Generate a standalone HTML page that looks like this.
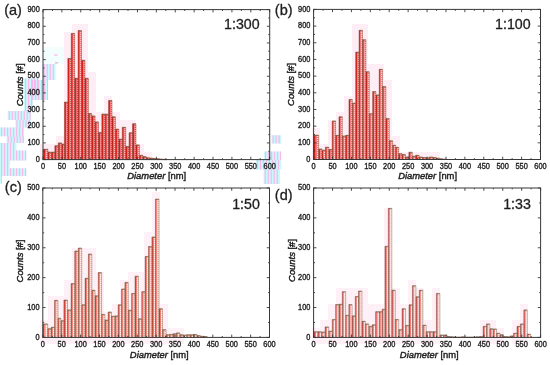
<!DOCTYPE html>
<html><head><meta charset="utf-8"><title>Histograms</title>
<style>
html,body{margin:0;padding:0;background:#fff;width:550px;height:365px;overflow:hidden;}
svg{display:block;will-change:transform;}
text{font-family:"Liberation Sans",sans-serif;fill:#1e1e1e;stroke:#1e1e1e;stroke-width:0.3px;}
.tl{font-size:7.4px;stroke-width:0.32px;}
.pl{font-size:14.5px;stroke-width:0.3px;}
.rt{font-size:14.2px;stroke-width:0.3px;}
.at{font-size:9.4px;stroke-width:0.42px;}
</style></head><body>
<svg width="550" height="365" viewBox="0 0 550 365">
<rect x="0" y="0" width="550" height="365" fill="#ffffff"/>
<path d="M42.6 64H55.6V80H42.6ZM31 80H48V100H31ZM24 78.5H38.4V95H24ZM24 95H32.9V111H24ZM7.7 111H30.7V120H7.7ZM15.4 120H30.7V127.5H15.4ZM0 127.5H24.1V136.3H0ZM6.6 136.3H24.1V143H6.6ZM0 143H16.4V150.6H0ZM0 150.6H26.3V160.4H0ZM0 160.4H9.9V168.2H0ZM0 168.2H26.3V175.9H0ZM0 175.9H1.8V183.5H0ZM271.5 135.2H281V143.4H271.5ZM264 151.6H281V160H264ZM255.9 160H281V169.5H255.9ZM263.6 169.5H280V184H263.6Z" fill="#c8fafc"/><path d="M43.6 64H44.8V80H43.6ZM46.6 64H47.8V80H46.6ZM49.6 64H50.8V80H49.6ZM52.6 64H53.8V80H52.6ZM32 80H33.2V100H32ZM35 80H36.2V100H35ZM38 80H39.2V100H38ZM41 80H42.2V100H41ZM44 80H45.2V100H44ZM47 80H48V100H47ZM25 78.5H26.2V95H25ZM28 78.5H29.2V95H28ZM31 78.5H32.2V95H31ZM34 78.5H35.2V95H34ZM37 78.5H38.2V95H37ZM25 95H26.2V111H25ZM28 95H29.2V111H28ZM31 95H32.2V111H31ZM8.7 111H9.9V120H8.7ZM11.7 111H12.9V120H11.7ZM14.7 111H15.9V120H14.7ZM17.7 111H18.9V120H17.7ZM20.7 111H21.9V120H20.7ZM23.7 111H24.9V120H23.7ZM26.7 111H27.9V120H26.7ZM29.7 111H30.7V120H29.7ZM16.4 120H17.6V127.5H16.4ZM19.4 120H20.6V127.5H19.4ZM22.4 120H23.6V127.5H22.4ZM25.4 120H26.6V127.5H25.4ZM28.4 120H29.6V127.5H28.4ZM1 127.5H2.2V136.3H1ZM4 127.5H5.2V136.3H4ZM7 127.5H8.2V136.3H7ZM10 127.5H11.2V136.3H10ZM13 127.5H14.2V136.3H13ZM16 127.5H17.2V136.3H16ZM19 127.5H20.2V136.3H19ZM22 127.5H23.2V136.3H22ZM7.6 136.3H8.8V143H7.6ZM10.6 136.3H11.8V143H10.6ZM13.6 136.3H14.8V143H13.6ZM16.6 136.3H17.8V143H16.6ZM19.6 136.3H20.8V143H19.6ZM22.6 136.3H23.8V143H22.6ZM1 143H2.2V150.6H1ZM4 143H5.2V150.6H4ZM7 143H8.2V150.6H7ZM10 143H11.2V150.6H10ZM13 143H14.2V150.6H13ZM1 150.6H2.2V160.4H1ZM4 150.6H5.2V160.4H4ZM7 150.6H8.2V160.4H7ZM10 150.6H11.2V160.4H10ZM13 150.6H14.2V160.4H13ZM16 150.6H17.2V160.4H16ZM19 150.6H20.2V160.4H19ZM22 150.6H23.2V160.4H22ZM25 150.6H26.2V160.4H25ZM1 160.4H2.2V168.2H1ZM4 160.4H5.2V168.2H4ZM7 160.4H8.2V168.2H7ZM1 168.2H2.2V175.9H1ZM4 168.2H5.2V175.9H4ZM7 168.2H8.2V175.9H7ZM10 168.2H11.2V175.9H10ZM13 168.2H14.2V175.9H13ZM16 168.2H17.2V175.9H16ZM19 168.2H20.2V175.9H19ZM22 168.2H23.2V175.9H22ZM25 168.2H26.2V175.9H25ZM1 175.9H1.8V183.5H1ZM272.5 135.2H273.7V143.4H272.5ZM275.5 135.2H276.7V143.4H275.5ZM278.5 135.2H279.7V143.4H278.5ZM265 151.6H266.2V160H265ZM268 151.6H269.2V160H268ZM271 151.6H272.2V160H271ZM274 151.6H275.2V160H274ZM277 151.6H278.2V160H277ZM280 151.6H281V160H280ZM256.9 160H258.1V169.5H256.9ZM259.9 160H261.1V169.5H259.9ZM262.9 160H264.1V169.5H262.9ZM265.9 160H267.1V169.5H265.9ZM268.9 160H270.1V169.5H268.9ZM271.9 160H273.1V169.5H271.9ZM274.9 160H276.1V169.5H274.9ZM277.9 160H279.1V169.5H277.9ZM264.6 169.5H265.8V184H264.6ZM267.6 169.5H268.8V184H267.6ZM270.6 169.5H271.8V184H270.6ZM273.6 169.5H274.8V184H273.6ZM276.6 169.5H277.8V184H276.6Z" fill="#f9b8ec"/>
<path d="M43.3 47H64V64H43.3Z" fill="#f2fefe"/><path d="M54 54.4H57.6V55.6H54ZM55 62.2H58.2V63.4H55Z" fill="#f8a8e0"/>
<path d="M40 144h8v8h-8ZM40 152h8v8h-8ZM48 144h8v8h-8ZM48 152h8v8h-8ZM56 136h8v8h-8ZM56 144h8v8h-8ZM56 152h8v8h-8ZM64 32h8v8h-8ZM64 40h8v8h-8ZM64 48h8v8h-8ZM64 56h8v8h-8ZM64 64h8v8h-8ZM64 72h8v8h-8ZM64 80h8v8h-8ZM64 88h8v8h-8ZM64 96h8v8h-8ZM64 104h8v8h-8ZM64 112h8v8h-8ZM64 120h8v8h-8ZM64 128h8v8h-8ZM64 136h8v8h-8ZM64 144h8v8h-8ZM64 152h8v8h-8ZM72 24h8v8h-8ZM72 32h8v8h-8ZM72 40h8v8h-8ZM72 48h8v8h-8ZM72 56h8v8h-8ZM72 64h8v8h-8ZM72 72h8v8h-8ZM72 80h8v8h-8ZM72 88h8v8h-8ZM72 96h8v8h-8ZM72 104h8v8h-8ZM72 112h8v8h-8ZM72 120h8v8h-8ZM72 128h8v8h-8ZM72 136h8v8h-8ZM72 144h8v8h-8ZM72 152h8v8h-8ZM80 24h8v8h-8ZM80 32h8v8h-8ZM80 40h8v8h-8ZM80 48h8v8h-8ZM80 56h8v8h-8ZM80 64h8v8h-8ZM80 72h8v8h-8ZM80 80h8v8h-8ZM80 88h8v8h-8ZM80 96h8v8h-8ZM80 104h8v8h-8ZM80 112h8v8h-8ZM80 120h8v8h-8ZM80 128h8v8h-8ZM80 136h8v8h-8ZM80 144h8v8h-8ZM80 152h8v8h-8ZM88 72h8v8h-8ZM88 80h8v8h-8ZM88 88h8v8h-8ZM88 96h8v8h-8ZM88 104h8v8h-8ZM88 112h8v8h-8ZM88 120h8v8h-8ZM88 128h8v8h-8ZM88 136h8v8h-8ZM88 144h8v8h-8ZM88 152h8v8h-8ZM96 112h8v8h-8ZM96 120h8v8h-8ZM96 128h8v8h-8ZM96 136h8v8h-8ZM96 144h8v8h-8ZM96 152h8v8h-8ZM104 96h8v8h-8ZM104 104h8v8h-8ZM104 112h8v8h-8ZM104 120h8v8h-8ZM104 128h8v8h-8ZM104 136h8v8h-8ZM104 144h8v8h-8ZM104 152h8v8h-8ZM112 112h8v8h-8ZM112 120h8v8h-8ZM112 128h8v8h-8ZM112 136h8v8h-8ZM112 144h8v8h-8ZM112 152h8v8h-8ZM120 120h8v8h-8ZM120 128h8v8h-8ZM120 136h8v8h-8ZM120 144h8v8h-8ZM120 152h8v8h-8ZM128 120h8v8h-8ZM128 128h8v8h-8ZM128 136h8v8h-8ZM128 144h8v8h-8ZM128 152h8v8h-8ZM136 144h8v8h-8ZM136 152h8v8h-8ZM144 152h8v8h-8Z" fill="#fdedf4"/>
<path d="M43.2 149.27H45.33V159.6H43.2ZM47.93 152.1H49.49V159.6H47.93ZM51.39 152.1H52.95V159.6H51.39ZM54.85 145.77H56.41V159.6H54.85ZM58.31 142.93H59.87V159.6H58.31ZM61.77 144.1H62.96V159.6H61.77ZM64.41 102.1H65.95V159.6H64.41ZM67.83 58.43H69.37V159.6H67.83ZM71.25 33.43H72.79V159.6H71.25ZM74.67 78.27H76.21V159.6H74.67ZM78.09 30.6H79.63V159.6H78.09ZM81.51 60.27H83.05V159.6H81.51ZM84.93 78.27H86.47V159.6H84.93ZM88.35 113.6H89.87V159.6H88.35ZM91.72 115.93H93.24V159.6H91.72ZM95.09 121.93H96.61V159.6H95.09ZM98.46 132.6H99.98V159.6H98.46ZM101.83 114.1H103.34V159.6H101.83ZM105.19 114.1H106.71V159.6H105.19ZM108.56 100.43H110.1V159.6H108.56ZM111.99 116.77H113.53V159.6H111.99ZM115.41 129.1H116.95V159.6H115.41ZM118.83 139.1H120.38V159.6H118.83ZM122.26 127.27H123.8V159.6H122.26ZM125.68 146.43H127.22V159.6H125.68ZM129.1 132.77H130.65V159.6H129.1ZM132.53 123.77H134.07V159.6H132.53ZM135.95 144.93H137.49V159.6H135.95ZM139.38 155.27H140.92V159.6H139.38ZM142.81 156.6H144.36V159.6H142.81ZM146.25 157.77H147.79V159.6H146.25ZM149.68 158.1H151.23V159.6H149.68ZM153.12 158.43H154.66V159.6H153.12ZM156.55 158.77H158.1V159.6H156.55ZM159.98 159.1H161.53V159.6H159.98ZM163.42 159.27H164.97V159.6H163.42Z" fill="#dc201e"/><path d="M45.33 149.27H46.37V159.6H45.33ZM49.49 152.1H50.25V159.6H49.49ZM52.95 152.1H53.71V159.6H52.95ZM56.41 145.77H57.17V159.6H56.41ZM59.87 142.93H60.63V159.6H59.87ZM62.96 144.1H63.54V159.6H62.96ZM65.95 102.1H66.7V159.6H65.95ZM69.37 58.43H70.12V159.6H69.37ZM72.79 33.43H73.54V159.6H72.79ZM76.21 78.27H76.96V159.6H76.21ZM79.63 30.6H80.38V159.6H79.63ZM83.05 60.27H83.8V159.6H83.05ZM86.47 78.27H87.22V159.6H86.47ZM89.87 113.6H90.61V159.6H89.87ZM93.24 115.93H93.97V159.6H93.24ZM96.61 121.93H97.34V159.6H96.61ZM99.98 132.6H100.71V159.6H99.98ZM103.34 114.1H104.08V159.6H103.34ZM106.71 114.1H107.45V159.6H106.71ZM110.1 100.43H110.85V159.6H110.1ZM113.53 116.77H114.27V159.6H113.53ZM116.95 129.1H117.7V159.6H116.95ZM120.38 139.1H121.12V159.6H120.38ZM123.8 127.27H124.55V159.6H123.8ZM127.22 146.43H127.97V159.6H127.22ZM130.65 132.77H131.39V159.6H130.65ZM134.07 123.77H134.82V159.6H134.07ZM137.49 144.93H138.24V159.6H137.49ZM140.92 155.27H141.67V159.6H140.92ZM144.36 156.6H145.11V159.6H144.36ZM147.79 157.77H148.54V159.6H147.79ZM151.23 158.1H151.98V159.6H151.23ZM154.66 158.43H155.41V159.6H154.66ZM158.1 158.77H158.85V159.6H158.1ZM161.53 159.1H162.28V159.6H161.53ZM164.97 159.27H165.72V159.6H164.97Z" fill="#f64a58"/><defs><pattern id="pa2" patternUnits="userSpaceOnUse" x="0" y="0" width="4" height="2"><rect x="0" y="0" width="4" height="1" fill="#fcc8c8"/><rect x="0" y="1" width="4" height="1" fill="#ec5858"/></pattern></defs><path d="M46.37 149.27H47.93V159.6H46.37ZM50.25 152.1H51.39V159.6H50.25ZM53.71 152.1H54.85V159.6H53.71ZM57.17 145.77H58.31V159.6H57.17ZM60.63 142.93H61.77V159.6H60.63ZM63.54 144.1H64.41V159.6H63.54ZM66.7 102.1H67.83V159.6H66.7ZM70.12 58.43H71.25V159.6H70.12ZM73.54 33.43H74.67V159.6H73.54ZM76.96 78.27H78.09V159.6H76.96ZM80.38 30.6H81.51V159.6H80.38ZM83.8 60.27H84.93V159.6H83.8ZM87.22 78.27H88.35V159.6H87.22ZM90.61 113.6H91.72V159.6H90.61ZM93.97 115.93H95.09V159.6H93.97ZM97.34 121.93H98.46V159.6H97.34ZM100.71 132.6H101.83V159.6H100.71ZM104.08 114.1H105.19V159.6H104.08ZM107.45 114.1H108.56V159.6H107.45ZM110.85 100.43H111.99V159.6H110.85ZM114.27 116.77H115.41V159.6H114.27ZM117.7 129.1H118.83V159.6H117.7ZM121.12 139.1H122.26V159.6H121.12ZM124.55 127.27H125.68V159.6H124.55ZM127.97 146.43H129.1V159.6H127.97ZM131.39 132.77H132.53V159.6H131.39ZM134.82 123.77H135.95V159.6H134.82ZM138.24 144.93H139.38V159.6H138.24ZM141.67 155.27H142.81V159.6H141.67ZM145.11 156.6H146.25V159.6H145.11ZM148.54 157.77H149.68V159.6H148.54ZM151.98 158.1H153.12V159.6H151.98ZM155.41 158.43H156.55V159.6H155.41ZM158.85 158.77H159.98V159.6H158.85ZM162.28 159.1H163.42V159.6H162.28ZM165.72 159.27H166.85V159.6H165.72Z" fill="url(#pa2)"/><path d="M43.2 159.6V149.27H47.93V159.6M47.93 159.6V152.1H51.39V159.6M51.39 159.6V152.1H54.85V159.6M54.85 159.6V145.77H58.31V159.6M58.31 159.6V142.93H61.77V159.6M61.77 159.6V144.1H64.41V159.6M64.41 159.6V102.1H67.83V159.6M67.83 159.6V58.43H71.25V159.6M71.25 159.6V33.43H74.67V159.6M74.67 159.6V78.27H78.09V159.6M78.09 159.6V30.6H81.51V159.6M81.51 159.6V60.27H84.93V159.6M84.93 159.6V78.27H88.35V159.6M88.35 159.6V113.6H91.72V159.6M91.72 159.6V115.93H95.09V159.6M95.09 159.6V121.93H98.46V159.6M98.46 159.6V132.6H101.83V159.6M101.83 159.6V114.1H105.19V159.6M105.19 159.6V114.1H108.56V159.6M108.56 159.6V100.43H111.99V159.6M111.99 159.6V116.77H115.41V159.6M115.41 159.6V129.1H118.83V159.6M118.83 159.6V139.1H122.26V159.6M122.26 159.6V127.27H125.68V159.6M125.68 159.6V146.43H129.1V159.6M129.1 159.6V132.77H132.53V159.6M132.53 159.6V123.77H135.95V159.6M135.95 159.6V144.93H139.38V159.6M139.38 159.6V155.27H142.81V159.6M142.81 159.6V156.6H146.25V159.6M146.25 159.6V157.77H149.68V159.6M149.68 159.6V158.1H153.12V159.6M153.12 159.6V158.43H156.55V159.6M156.55 159.6V158.77H159.98V159.6M159.98 159.6V159.1H163.42V159.6M163.42 159.6V159.27H166.85V159.6" fill="none" stroke="#7a3820" stroke-width="0.45"/><path d="M43.4 149.62H47.73M48.13 152.45H51.19M51.59 152.45H54.65M55.05 146.12H58.11M58.51 143.28H61.57M61.97 144.45H64.21M64.61 102.45H67.63M68.03 58.78H71.05M71.45 33.78H74.47M74.87 78.62H77.89M78.29 30.95H81.31M81.71 60.62H84.73M85.13 78.62H88.15M88.55 113.95H91.52M91.92 116.28H94.89M95.29 122.28H98.26M98.66 132.95H101.63M102.03 114.45H104.99M105.39 114.45H108.36M108.76 100.78H111.79M112.19 117.12H115.21M115.61 129.45H118.63M119.03 139.45H122.06M122.46 127.62H125.48M125.88 146.78H128.9M129.3 133.12H132.33M132.73 124.12H135.75M136.15 145.28H139.18M139.58 155.62H142.61M143.01 156.95H146.05M146.45 158.12H149.48M149.88 158.45H152.92M153.32 158.78H156.35M156.75 159.12H159.78M160.18 159.45H163.22M163.62 159.62H166.65" fill="none" stroke="#7a6040" stroke-width="0.7"/>
<rect x="43" y="9.6" width="226.7" height="150" fill="none" stroke="#383838" stroke-width="1"/>
<path d="M43 159.6v-2.8M43 9.6v2.8M52.45 159.6v-1.4M52.45 9.6v1.4M61.89 159.6v-2.8M61.89 9.6v2.8M71.34 159.6v-1.4M71.34 9.6v1.4M80.78 159.6v-2.8M80.78 9.6v2.8M90.23 159.6v-1.4M90.23 9.6v1.4M99.67 159.6v-2.8M99.67 9.6v2.8M109.12 159.6v-1.4M109.12 9.6v1.4M118.57 159.6v-2.8M118.57 9.6v2.8M128.01 159.6v-1.4M128.01 9.6v1.4M137.46 159.6v-2.8M137.46 9.6v2.8M146.9 159.6v-1.4M146.9 9.6v1.4M156.35 159.6v-2.8M156.35 9.6v2.8M165.8 159.6v-1.4M165.8 9.6v1.4M175.24 159.6v-2.8M175.24 9.6v2.8M184.69 159.6v-1.4M184.69 9.6v1.4M194.13 159.6v-2.8M194.13 9.6v2.8M203.58 159.6v-1.4M203.58 9.6v1.4M213.02 159.6v-2.8M213.02 9.6v2.8M222.47 159.6v-1.4M222.47 9.6v1.4M231.92 159.6v-2.8M231.92 9.6v2.8M241.36 159.6v-1.4M241.36 9.6v1.4M250.81 159.6v-2.8M250.81 9.6v2.8M260.25 159.6v-1.4M260.25 9.6v1.4M269.7 159.6v-2.8M269.7 9.6v2.8M43 159.6h2.8M269.7 159.6h-2.8M43 151.27h1.4M269.7 151.27h-1.4M43 142.93h2.8M269.7 142.93h-2.8M43 134.6h1.4M269.7 134.6h-1.4M43 126.27h2.8M269.7 126.27h-2.8M43 117.93h1.4M269.7 117.93h-1.4M43 109.6h2.8M269.7 109.6h-2.8M43 101.27h1.4M269.7 101.27h-1.4M43 92.93h2.8M269.7 92.93h-2.8M43 84.6h1.4M269.7 84.6h-1.4M43 76.27h2.8M269.7 76.27h-2.8M43 67.93h1.4M269.7 67.93h-1.4M43 59.6h2.8M269.7 59.6h-2.8M43 51.27h1.4M269.7 51.27h-1.4M43 42.93h2.8M269.7 42.93h-2.8M43 34.6h1.4M269.7 34.6h-1.4M43 26.27h2.8M269.7 26.27h-2.8M43 17.93h1.4M269.7 17.93h-1.4M43 9.6h2.8M269.7 9.6h-2.8" stroke="#383838" stroke-width="0.9" fill="none"/>
<text class="tl" transform="translate(43 168.8) scale(1 1.1)" text-anchor="middle">0</text><text class="tl" transform="translate(61.89 168.8) scale(1 1.1)" text-anchor="middle">50</text><text class="tl" transform="translate(80.78 168.8) scale(1 1.1)" text-anchor="middle">100</text><text class="tl" transform="translate(99.67 168.8) scale(1 1.1)" text-anchor="middle">150</text><text class="tl" transform="translate(118.57 168.8) scale(1 1.1)" text-anchor="middle">200</text><text class="tl" transform="translate(137.46 168.8) scale(1 1.1)" text-anchor="middle">250</text><text class="tl" transform="translate(156.35 168.8) scale(1 1.1)" text-anchor="middle">300</text><text class="tl" transform="translate(175.24 168.8) scale(1 1.1)" text-anchor="middle">350</text><text class="tl" transform="translate(194.13 168.8) scale(1 1.1)" text-anchor="middle">400</text><text class="tl" transform="translate(213.02 168.8) scale(1 1.1)" text-anchor="middle">450</text><text class="tl" transform="translate(231.92 168.8) scale(1 1.1)" text-anchor="middle">500</text><text class="tl" transform="translate(250.81 168.8) scale(1 1.1)" text-anchor="middle">550</text><text class="tl" transform="translate(269.7 168.8) scale(1 1.1)" text-anchor="middle">600</text><text class="tl" transform="translate(39.8 161.8) scale(1 1.1)" text-anchor="end">0</text><text class="tl" transform="translate(39.8 145.13) scale(1 1.1)" text-anchor="end">100</text><text class="tl" transform="translate(39.8 128.47) scale(1 1.1)" text-anchor="end">200</text><text class="tl" transform="translate(39.8 111.8) scale(1 1.1)" text-anchor="end">300</text><text class="tl" transform="translate(39.8 95.13) scale(1 1.1)" text-anchor="end">400</text><text class="tl" transform="translate(39.8 78.47) scale(1 1.1)" text-anchor="end">500</text><text class="tl" transform="translate(39.8 61.8) scale(1 1.1)" text-anchor="end">600</text><text class="tl" transform="translate(39.8 45.13) scale(1 1.1)" text-anchor="end">700</text><text class="tl" transform="translate(39.8 28.47) scale(1 1.1)" text-anchor="end">800</text><text class="tl" transform="translate(39.8 11.8) scale(1 1.1)" text-anchor="end">900</text>
<text class="pl" x="4.2" y="15.1">(a)</text>
<text class="rt" x="259.6" y="28.5" text-anchor="end">1:300</text>
<text class="at" x="156.7" y="178.9" text-anchor="middle"><tspan font-style="italic">Diameter</tspan> [nm]</text>
<text class="at" transform="translate(23.2 84.8) rotate(-90)" x="0" y="0" text-anchor="middle"><tspan font-style="italic">Counts</tspan> [#]</text>
<path d="M312 128h8v8h-8ZM312 136h8v8h-8ZM312 144h8v8h-8ZM312 152h8v8h-8ZM320 144h8v8h-8ZM320 152h8v8h-8ZM328 120h8v8h-8ZM328 128h8v8h-8ZM328 136h8v8h-8ZM328 144h8v8h-8ZM328 152h8v8h-8ZM336 112h8v8h-8ZM336 120h8v8h-8ZM336 128h8v8h-8ZM336 136h8v8h-8ZM336 144h8v8h-8ZM336 152h8v8h-8ZM344 96h8v8h-8ZM344 104h8v8h-8ZM344 112h8v8h-8ZM344 120h8v8h-8ZM344 128h8v8h-8ZM344 136h8v8h-8ZM344 144h8v8h-8ZM344 152h8v8h-8ZM352 24h8v8h-8ZM352 32h8v8h-8ZM352 40h8v8h-8ZM352 48h8v8h-8ZM352 56h8v8h-8ZM352 64h8v8h-8ZM352 72h8v8h-8ZM352 80h8v8h-8ZM352 88h8v8h-8ZM352 96h8v8h-8ZM352 104h8v8h-8ZM352 112h8v8h-8ZM352 120h8v8h-8ZM352 128h8v8h-8ZM352 136h8v8h-8ZM352 144h8v8h-8ZM352 152h8v8h-8ZM360 24h8v8h-8ZM360 32h8v8h-8ZM360 40h8v8h-8ZM360 48h8v8h-8ZM360 56h8v8h-8ZM360 64h8v8h-8ZM360 72h8v8h-8ZM360 80h8v8h-8ZM360 88h8v8h-8ZM360 96h8v8h-8ZM360 104h8v8h-8ZM360 112h8v8h-8ZM360 120h8v8h-8ZM360 128h8v8h-8ZM360 136h8v8h-8ZM360 144h8v8h-8ZM360 152h8v8h-8ZM368 64h8v8h-8ZM368 72h8v8h-8ZM368 80h8v8h-8ZM368 88h8v8h-8ZM368 96h8v8h-8ZM368 104h8v8h-8ZM368 112h8v8h-8ZM368 120h8v8h-8ZM368 128h8v8h-8ZM368 136h8v8h-8ZM368 144h8v8h-8ZM368 152h8v8h-8ZM376 64h8v8h-8ZM376 72h8v8h-8ZM376 80h8v8h-8ZM376 88h8v8h-8ZM376 96h8v8h-8ZM376 104h8v8h-8ZM376 112h8v8h-8ZM376 120h8v8h-8ZM376 128h8v8h-8ZM376 136h8v8h-8ZM376 144h8v8h-8ZM376 152h8v8h-8ZM384 80h8v8h-8ZM384 88h8v8h-8ZM384 96h8v8h-8ZM384 104h8v8h-8ZM384 112h8v8h-8ZM384 120h8v8h-8ZM384 128h8v8h-8ZM384 136h8v8h-8ZM384 144h8v8h-8ZM384 152h8v8h-8ZM392 136h8v8h-8ZM392 144h8v8h-8ZM392 152h8v8h-8ZM400 152h8v8h-8ZM408 152h8v8h-8ZM416 152h8v8h-8ZM424 152h8v8h-8ZM432 152h8v8h-8Z" fill="#fdeef5"/>
<path d="M313.8 135.15H315.7V159.5H313.8ZM318.64 148.99H319.97V159.5H318.64ZM322.04 150.16H323.37V159.5H322.04ZM325.43 147.16H326.77V159.5H325.43ZM328.83 149.49H330.16V159.5H328.83ZM332.23 120.97H333.56V159.5H332.23ZM335.63 135.32H336.94V159.5H335.63ZM338.97 116.8H340.28V159.5H338.97ZM342.3 135.98H343.61V159.5H342.3ZM345.64 135.32H346.95V159.5H345.64ZM348.98 99.46H350.29V159.5H348.98ZM352.32 103.13H353.65V159.5H352.32ZM355.7 52.1H357.03V159.5H355.7ZM359.09 30.25H360.42V159.5H359.09ZM362.48 39.75H363.81V159.5H362.48ZM365.87 71.77H367.2V159.5H365.87ZM369.26 113.8H370.59V159.5H369.26ZM372.64 91.62H373.93V159.5H372.64ZM375.92 94.96H377.2V159.5H375.92ZM379.19 69.27H380.47V159.5H379.19ZM382.46 86.62H383.79V159.5H382.46ZM385.86 118.47H387.2V159.5H385.86ZM389.27 140.82H390.6V159.5H389.27ZM392.67 145.16H393.84V159.5H392.67ZM395.66 147.33H396.83V159.5H395.66ZM398.65 153.66H399.98V159.5H398.65ZM402.05 154.5H403.39V159.5H402.05ZM405.46 157H406.79V159.5H405.46ZM408.86 152.16H410.2V159.5H408.86ZM412.27 156.16H413.6V159.5H412.27ZM415.67 155.33H417.01V159.5H415.67ZM419.07 157H420.42V159.5H419.07ZM422.51 157.5H423.86V159.5H422.51ZM425.95 157.83H427.3V159.5H425.95ZM429.39 157H430.74V159.5H429.39ZM432.83 157.5H434.17V159.5H432.83ZM436.26 158.17H437.61V159.5H436.26ZM439.7 158.83H441.05V159.5H439.7ZM443.14 159.17H444.49V159.5H443.14Z" fill="#d62420"/><path d="M315.7 135.15H316.89V159.5H315.7ZM319.97 148.99H320.81V159.5H319.97ZM323.37 150.16H324.21V159.5H323.37ZM326.77 147.16H327.61V159.5H326.77ZM330.16 149.49H331V159.5H330.16ZM333.56 120.97H334.4V159.5H333.56ZM336.94 135.32H337.76V159.5H336.94ZM340.28 116.8H341.1V159.5H340.28ZM343.61 135.98H344.44V159.5H343.61ZM346.95 135.32H347.78V159.5H346.95ZM350.29 99.46H351.11V159.5H350.29ZM353.65 103.13H354.48V159.5H353.65ZM357.03 52.1H357.87V159.5H357.03ZM360.42 30.25H361.26V159.5H360.42ZM363.81 39.75H364.65V159.5H363.81ZM367.2 71.77H368.03V159.5H367.2ZM370.59 113.8H371.42V159.5H370.59ZM373.93 91.62H374.74V159.5H373.93ZM377.2 94.96H378.01V159.5H377.2ZM380.47 69.27H381.28V159.5H380.47ZM383.79 86.62H384.63V159.5H383.79ZM387.2 118.47H388.04V159.5H387.2ZM390.6 140.82H391.44V159.5H390.6ZM393.84 145.16H394.58V159.5H393.84ZM396.83 147.33H397.57V159.5H396.83ZM399.98 153.66H400.82V159.5H399.98ZM403.39 154.5H404.23V159.5H403.39ZM406.79 157H407.63V159.5H406.79ZM410.2 152.16H411.04V159.5H410.2ZM413.6 156.16H414.44V159.5H413.6ZM417.01 155.33H417.85V159.5H417.01ZM420.42 157H421.27V159.5H420.42ZM423.86 157.5H424.71V159.5H423.86ZM427.3 157.83H428.15V159.5H427.3ZM430.74 157H431.59V159.5H430.74ZM434.17 157.5H435.02V159.5H434.17ZM437.61 158.17H438.46V159.5H437.61ZM441.05 158.83H441.9V159.5H441.05ZM444.49 159.17H445.34V159.5H444.49Z" fill="#f6626a"/><defs><pattern id="pb2" patternUnits="userSpaceOnUse" x="0" y="0" width="4" height="2"><rect x="0" y="0" width="4" height="1" fill="#fedcd8"/><rect x="0" y="1" width="4" height="1" fill="#f27c78"/></pattern></defs><path d="M316.89 135.15H318.64V159.5H316.89ZM320.81 148.99H322.04V159.5H320.81ZM324.21 150.16H325.43V159.5H324.21ZM327.61 147.16H328.83V159.5H327.61ZM331 149.49H332.23V159.5H331ZM334.4 120.97H335.63V159.5H334.4ZM337.76 135.32H338.97V159.5H337.76ZM341.1 116.8H342.3V159.5H341.1ZM344.44 135.98H345.64V159.5H344.44ZM347.78 135.32H348.98V159.5H347.78ZM351.11 99.46H352.32V159.5H351.11ZM354.48 103.13H355.7V159.5H354.48ZM357.87 52.1H359.09V159.5H357.87ZM361.26 30.25H362.48V159.5H361.26ZM364.65 39.75H365.87V159.5H364.65ZM368.03 71.77H369.26V159.5H368.03ZM371.42 113.8H372.64V159.5H371.42ZM374.74 91.62H375.92V159.5H374.74ZM378.01 94.96H379.19V159.5H378.01ZM381.28 69.27H382.46V159.5H381.28ZM384.63 86.62H385.86V159.5H384.63ZM388.04 118.47H389.27V159.5H388.04ZM391.44 140.82H392.67V159.5H391.44ZM394.58 145.16H395.66V159.5H394.58ZM397.57 147.33H398.65V159.5H397.57ZM400.82 153.66H402.05V159.5H400.82ZM404.23 154.5H405.46V159.5H404.23ZM407.63 157H408.86V159.5H407.63ZM411.04 152.16H412.27V159.5H411.04ZM414.44 156.16H415.67V159.5H414.44ZM417.85 155.33H419.07V159.5H417.85ZM421.27 157H422.51V159.5H421.27ZM424.71 157.5H425.95V159.5H424.71ZM428.15 157.83H429.39V159.5H428.15ZM431.59 157H432.83V159.5H431.59ZM435.02 157.5H436.26V159.5H435.02ZM438.46 158.17H439.7V159.5H438.46ZM441.9 158.83H443.14V159.5H441.9ZM445.34 159.17H446.58V159.5H445.34Z" fill="url(#pb2)"/><path d="M313.8 159.5V135.15H318.64V159.5M318.64 159.5V148.99H322.04V159.5M322.04 159.5V150.16H325.43V159.5M325.43 159.5V147.16H328.83V159.5M328.83 159.5V149.49H332.23V159.5M332.23 159.5V120.97H335.63V159.5M335.63 159.5V135.32H338.97V159.5M338.97 159.5V116.8H342.3V159.5M342.3 159.5V135.98H345.64V159.5M345.64 159.5V135.32H348.98V159.5M348.98 159.5V99.46H352.32V159.5M352.32 159.5V103.13H355.7V159.5M355.7 159.5V52.1H359.09V159.5M359.09 159.5V30.25H362.48V159.5M362.48 159.5V39.75H365.87V159.5M365.87 159.5V71.77H369.26V159.5M369.26 159.5V113.8H372.64V159.5M372.64 159.5V91.62H375.92V159.5M375.92 159.5V94.96H379.19V159.5M379.19 159.5V69.27H382.46V159.5M382.46 159.5V86.62H385.86V159.5M385.86 159.5V118.47H389.27V159.5M389.27 159.5V140.82H392.67V159.5M392.67 159.5V145.16H395.66V159.5M395.66 159.5V147.33H398.65V159.5M398.65 159.5V153.66H402.05V159.5M402.05 159.5V154.5H405.46V159.5M405.46 159.5V157H408.86V159.5M408.86 159.5V152.16H412.27V159.5M412.27 159.5V156.16H415.67V159.5M415.67 159.5V155.33H419.07V159.5M419.07 159.5V157H422.51V159.5M422.51 159.5V157.5H425.95V159.5M425.95 159.5V157.83H429.39V159.5M429.39 159.5V157H432.83V159.5M432.83 159.5V157.5H436.26V159.5M436.26 159.5V158.17H439.7V159.5M439.7 159.5V158.83H443.14V159.5M443.14 159.5V159.17H446.58V159.5" fill="none" stroke="#7a3c24" stroke-width="0.45"/><path d="M314 135.5H318.44M318.84 149.34H321.84M322.24 150.51H325.23M325.63 147.51H328.63M329.03 149.84H332.03M332.43 121.32H335.43M335.83 135.67H338.77M339.17 117.15H342.1M342.5 136.33H345.44M345.84 135.67H348.78M349.18 99.81H352.12M352.52 103.48H355.5M355.9 52.45H358.89M359.29 30.6H362.28M362.68 40.1H365.67M366.07 72.12H369.06M369.46 114.15H372.44M372.84 91.97H375.72M376.12 95.31H378.99M379.39 69.62H382.26M382.66 86.97H385.66M386.06 118.82H389.07M389.47 141.17H392.47M392.87 145.51H395.46M395.86 147.68H398.45M398.85 154.01H401.85M402.25 154.85H405.26M405.66 157.35H408.66M409.06 152.51H412.07M412.47 156.51H415.47M415.87 155.68H418.87M419.27 157.35H422.31M422.71 157.85H425.75M426.15 158.18H429.19M429.59 157.35H432.63M433.03 157.85H436.06M436.46 158.52H439.5M439.9 159.18H442.94M443.34 159.52H446.38" fill="none" stroke="#7a6444" stroke-width="0.7"/>
<rect x="313.6" y="9.4" width="226.9" height="150.1" fill="none" stroke="#383838" stroke-width="1"/>
<path d="M313.6 159.5v-2.8M313.6 9.4v2.8M323.05 159.5v-1.4M323.05 9.4v1.4M332.51 159.5v-2.8M332.51 9.4v2.8M341.96 159.5v-1.4M341.96 9.4v1.4M351.42 159.5v-2.8M351.42 9.4v2.8M360.87 159.5v-1.4M360.87 9.4v1.4M370.33 159.5v-2.8M370.33 9.4v2.8M379.78 159.5v-1.4M379.78 9.4v1.4M389.23 159.5v-2.8M389.23 9.4v2.8M398.69 159.5v-1.4M398.69 9.4v1.4M408.14 159.5v-2.8M408.14 9.4v2.8M417.6 159.5v-1.4M417.6 9.4v1.4M427.05 159.5v-2.8M427.05 9.4v2.8M436.5 159.5v-1.4M436.5 9.4v1.4M445.96 159.5v-2.8M445.96 9.4v2.8M455.41 159.5v-1.4M455.41 9.4v1.4M464.87 159.5v-2.8M464.87 9.4v2.8M474.32 159.5v-1.4M474.32 9.4v1.4M483.77 159.5v-2.8M483.77 9.4v2.8M493.23 159.5v-1.4M493.23 9.4v1.4M502.68 159.5v-2.8M502.68 9.4v2.8M512.14 159.5v-1.4M512.14 9.4v1.4M521.59 159.5v-2.8M521.59 9.4v2.8M531.05 159.5v-1.4M531.05 9.4v1.4M540.5 159.5v-2.8M540.5 9.4v2.8M313.6 159.5h2.8M540.5 159.5h-2.8M313.6 151.16h1.4M540.5 151.16h-1.4M313.6 142.82h2.8M540.5 142.82h-2.8M313.6 134.48h1.4M540.5 134.48h-1.4M313.6 126.14h2.8M540.5 126.14h-2.8M313.6 117.81h1.4M540.5 117.81h-1.4M313.6 109.47h2.8M540.5 109.47h-2.8M313.6 101.13h1.4M540.5 101.13h-1.4M313.6 92.79h2.8M540.5 92.79h-2.8M313.6 84.45h1.4M540.5 84.45h-1.4M313.6 76.11h2.8M540.5 76.11h-2.8M313.6 67.77h1.4M540.5 67.77h-1.4M313.6 59.43h2.8M540.5 59.43h-2.8M313.6 51.09h1.4M540.5 51.09h-1.4M313.6 42.76h2.8M540.5 42.76h-2.8M313.6 34.42h1.4M540.5 34.42h-1.4M313.6 26.08h2.8M540.5 26.08h-2.8M313.6 17.74h1.4M540.5 17.74h-1.4M313.6 9.4h2.8M540.5 9.4h-2.8" stroke="#383838" stroke-width="0.9" fill="none"/>
<text class="tl" transform="translate(313.6 168.7) scale(1 1.1)" text-anchor="middle">0</text><text class="tl" transform="translate(332.51 168.7) scale(1 1.1)" text-anchor="middle">50</text><text class="tl" transform="translate(351.42 168.7) scale(1 1.1)" text-anchor="middle">100</text><text class="tl" transform="translate(370.33 168.7) scale(1 1.1)" text-anchor="middle">150</text><text class="tl" transform="translate(389.23 168.7) scale(1 1.1)" text-anchor="middle">200</text><text class="tl" transform="translate(408.14 168.7) scale(1 1.1)" text-anchor="middle">250</text><text class="tl" transform="translate(427.05 168.7) scale(1 1.1)" text-anchor="middle">300</text><text class="tl" transform="translate(445.96 168.7) scale(1 1.1)" text-anchor="middle">350</text><text class="tl" transform="translate(464.87 168.7) scale(1 1.1)" text-anchor="middle">400</text><text class="tl" transform="translate(483.77 168.7) scale(1 1.1)" text-anchor="middle">450</text><text class="tl" transform="translate(502.68 168.7) scale(1 1.1)" text-anchor="middle">500</text><text class="tl" transform="translate(521.59 168.7) scale(1 1.1)" text-anchor="middle">550</text><text class="tl" transform="translate(540.5 168.7) scale(1 1.1)" text-anchor="middle">600</text><text class="tl" transform="translate(310.4 161.7) scale(1 1.1)" text-anchor="end">0</text><text class="tl" transform="translate(310.4 145.02) scale(1 1.1)" text-anchor="end">100</text><text class="tl" transform="translate(310.4 128.34) scale(1 1.1)" text-anchor="end">200</text><text class="tl" transform="translate(310.4 111.67) scale(1 1.1)" text-anchor="end">300</text><text class="tl" transform="translate(310.4 94.99) scale(1 1.1)" text-anchor="end">400</text><text class="tl" transform="translate(310.4 78.31) scale(1 1.1)" text-anchor="end">500</text><text class="tl" transform="translate(310.4 61.63) scale(1 1.1)" text-anchor="end">600</text><text class="tl" transform="translate(310.4 44.96) scale(1 1.1)" text-anchor="end">700</text><text class="tl" transform="translate(310.4 28.28) scale(1 1.1)" text-anchor="end">800</text><text class="tl" transform="translate(310.4 11.6) scale(1 1.1)" text-anchor="end">900</text>
<text class="pl" x="274.8" y="15.4">(b)</text>
<text class="rt" x="530.6" y="28.5" text-anchor="end">1:100</text>
<text class="at" x="427.6" y="179" text-anchor="middle"><tspan font-style="italic">Diameter</tspan> [nm]</text>
<text class="at" transform="translate(294.4 84.5) rotate(-90)" x="0" y="0" text-anchor="middle"><tspan font-style="italic">Counts</tspan> [#]</text>
<path d="M40 320h8v8h-8ZM40 328h8v8h-8ZM40 336h8v8h-8ZM48 296h8v8h-8ZM48 304h8v8h-8ZM48 312h8v8h-8ZM48 320h8v8h-8ZM48 328h8v8h-8ZM48 336h8v8h-8ZM56 296h8v8h-8ZM56 304h8v8h-8ZM56 312h8v8h-8ZM56 320h8v8h-8ZM56 328h8v8h-8ZM56 336h8v8h-8ZM64 280h8v8h-8ZM64 288h8v8h-8ZM64 296h8v8h-8ZM64 304h8v8h-8ZM64 312h8v8h-8ZM64 320h8v8h-8ZM64 328h8v8h-8ZM64 336h8v8h-8ZM72 248h8v8h-8ZM72 256h8v8h-8ZM72 264h8v8h-8ZM72 272h8v8h-8ZM72 280h8v8h-8ZM72 288h8v8h-8ZM72 296h8v8h-8ZM72 304h8v8h-8ZM72 312h8v8h-8ZM72 320h8v8h-8ZM72 328h8v8h-8ZM72 336h8v8h-8ZM80 248h8v8h-8ZM80 256h8v8h-8ZM80 264h8v8h-8ZM80 272h8v8h-8ZM80 280h8v8h-8ZM80 288h8v8h-8ZM80 296h8v8h-8ZM80 304h8v8h-8ZM80 312h8v8h-8ZM80 320h8v8h-8ZM80 328h8v8h-8ZM80 336h8v8h-8ZM88 248h8v8h-8ZM88 256h8v8h-8ZM88 264h8v8h-8ZM88 272h8v8h-8ZM88 280h8v8h-8ZM88 288h8v8h-8ZM88 296h8v8h-8ZM88 304h8v8h-8ZM88 312h8v8h-8ZM88 320h8v8h-8ZM88 328h8v8h-8ZM88 336h8v8h-8ZM96 272h8v8h-8ZM96 280h8v8h-8ZM96 288h8v8h-8ZM96 296h8v8h-8ZM96 304h8v8h-8ZM96 312h8v8h-8ZM96 320h8v8h-8ZM96 328h8v8h-8ZM96 336h8v8h-8ZM104 312h8v8h-8ZM104 320h8v8h-8ZM104 328h8v8h-8ZM104 336h8v8h-8ZM112 304h8v8h-8ZM112 312h8v8h-8ZM112 320h8v8h-8ZM112 328h8v8h-8ZM112 336h8v8h-8ZM120 280h8v8h-8ZM120 288h8v8h-8ZM120 296h8v8h-8ZM120 304h8v8h-8ZM120 312h8v8h-8ZM120 320h8v8h-8ZM120 328h8v8h-8ZM120 336h8v8h-8ZM128 272h8v8h-8ZM128 280h8v8h-8ZM128 288h8v8h-8ZM128 296h8v8h-8ZM128 304h8v8h-8ZM128 312h8v8h-8ZM128 320h8v8h-8ZM128 328h8v8h-8ZM128 336h8v8h-8ZM136 272h8v8h-8ZM136 280h8v8h-8ZM136 288h8v8h-8ZM136 296h8v8h-8ZM136 304h8v8h-8ZM136 312h8v8h-8ZM136 320h8v8h-8ZM136 328h8v8h-8ZM136 336h8v8h-8ZM144 232h8v8h-8ZM144 240h8v8h-8ZM144 248h8v8h-8ZM144 256h8v8h-8ZM144 264h8v8h-8ZM144 272h8v8h-8ZM144 280h8v8h-8ZM144 288h8v8h-8ZM144 296h8v8h-8ZM144 304h8v8h-8ZM144 312h8v8h-8ZM144 320h8v8h-8ZM144 328h8v8h-8ZM144 336h8v8h-8ZM152 192h8v8h-8ZM152 200h8v8h-8ZM152 208h8v8h-8ZM152 216h8v8h-8ZM152 224h8v8h-8ZM152 232h8v8h-8ZM152 240h8v8h-8ZM152 248h8v8h-8ZM152 256h8v8h-8ZM152 264h8v8h-8ZM152 272h8v8h-8ZM152 280h8v8h-8ZM152 288h8v8h-8ZM152 296h8v8h-8ZM152 304h8v8h-8ZM152 312h8v8h-8ZM152 320h8v8h-8ZM152 328h8v8h-8ZM152 336h8v8h-8ZM160 304h8v8h-8ZM160 312h8v8h-8ZM160 320h8v8h-8ZM160 328h8v8h-8ZM160 336h8v8h-8ZM168 328h8v8h-8ZM168 336h8v8h-8ZM176 328h8v8h-8ZM176 336h8v8h-8Z" fill="#fdf0f6"/>
<path d="M43 323.95H44.38V337.4H43ZM47.73 328.73H48.72V337.4H47.73ZM51.14 327.24H52.13V337.4H51.14ZM54.54 300.35H55.53V337.4H54.54ZM57.94 318.28H58.81V337.4H57.94ZM60.92 320.67H61.79V337.4H60.92ZM63.91 300.05H64.96V337.4H63.91ZM67.52 309.91H68.57V337.4H67.52ZM71.13 283.62H72.18V337.4H71.13ZM74.74 251.05H75.79V337.4H74.74ZM78.35 248.06H79.33V337.4H78.35ZM81.71 304.83H82.69V337.4H81.71ZM85.07 278.24H86.04V337.4H85.07ZM88.43 254.03H89.4V337.4H88.43ZM91.79 290.19H92.74V337.4H91.79ZM95.06 295.87H96.01V337.4H95.06ZM98.32 272.56H99.27V337.4H98.32ZM101.59 314.39H102.55V337.4H101.59ZM104.89 320.07H105.85V337.4H104.89ZM108.2 312H109.16V337.4H108.2ZM111.5 316.19H112.47V337.4H111.5ZM114.85 315.89H115.82V337.4H114.85ZM118.2 304.83H119.17V337.4H118.2ZM121.55 288.99H122.53V337.4H121.55ZM124.9 282.42H125.88V337.4H124.9ZM128.25 310.21H129.23V337.4H128.25ZM131.61 293.48H132.59V337.4H131.61ZM134.99 276.15H135.97V337.4H134.99ZM138.38 318.87H139.36V337.4H138.38ZM141.76 291.68H142.74V337.4H141.76ZM145.15 256.43H146.13V337.4H145.15ZM148.53 246.56H149.51V337.4H148.53ZM151.92 237H152.94V337.4H151.92ZM155.45 199.06H156.48V337.4H155.45ZM158.98 308.72H160.01V337.4H158.98ZM162.52 329.63H163.55V337.4H162.52ZM166.05 334.71H167.05V337.4H166.05ZM169.49 334.41H170.49V337.4H169.49ZM172.92 333.81H173.92V337.4H172.92ZM176.36 332.92H177.36V337.4H176.36ZM179.79 334.71H180.79V337.4H179.79ZM183.23 335.01H184.23V337.4H183.23ZM186.66 334.71H187.66V337.4H186.66ZM190.1 334.71H191.1V337.4H190.1ZM193.53 334.41H194.53V337.4H193.53ZM196.97 335.61H197.97V337.4H196.97ZM200.4 336.2H201.4V337.4H200.4ZM203.84 336.5H204.84V337.4H203.84Z" fill="#e23a36"/><path d="M44.38 323.95H45.75V337.4H44.38ZM48.72 328.73H49.71V337.4H48.72ZM52.13 327.24H53.11V337.4H52.13ZM55.53 300.35H56.52V337.4H55.53ZM58.81 318.28H59.67V337.4H58.81ZM61.79 320.67H62.66V337.4H61.79ZM64.96 300.05H66.01V337.4H64.96ZM68.57 309.91H69.62V337.4H68.57ZM72.18 283.62H73.23V337.4H72.18ZM75.79 251.05H76.84V337.4H75.79ZM79.33 248.06H80.3V337.4H79.33ZM82.69 304.83H83.66V337.4H82.69ZM86.04 278.24H87.02V337.4H86.04ZM89.4 254.03H90.38V337.4H89.4ZM92.74 290.19H93.69V337.4H92.74ZM96.01 295.87H96.96V337.4H96.01ZM99.27 272.56H100.22V337.4H99.27ZM102.55 314.39H103.51V337.4H102.55ZM105.85 320.07H106.81V337.4H105.85ZM109.16 312H110.11V337.4H109.16ZM112.47 316.19H113.45V337.4H112.47ZM115.82 315.89H116.8V337.4H115.82ZM119.17 304.83H120.15V337.4H119.17ZM122.53 288.99H123.5V337.4H122.53ZM125.88 282.42H126.85V337.4H125.88ZM129.23 310.21H130.2V337.4H129.23ZM132.59 293.48H133.57V337.4H132.59ZM135.97 276.15H136.96V337.4H135.97ZM139.36 318.87H140.34V337.4H139.36ZM142.74 291.68H143.73V337.4H142.74ZM146.13 256.43H147.11V337.4H146.13ZM149.51 246.56H150.5V337.4H149.51ZM152.94 237H153.97V337.4H152.94ZM156.48 199.06H157.51V337.4H156.48ZM160.01 308.72H161.04V337.4H160.01ZM163.55 329.63H164.57V337.4H163.55ZM167.05 334.71H168.05V337.4H167.05ZM170.49 334.41H171.49V337.4H170.49ZM173.92 333.81H174.92V337.4H173.92ZM177.36 332.92H178.36V337.4H177.36ZM180.79 334.71H181.79V337.4H180.79ZM184.23 335.01H185.23V337.4H184.23ZM187.66 334.71H188.66V337.4H187.66ZM191.1 334.71H192.1V337.4H191.1ZM194.53 334.41H195.53V337.4H194.53ZM197.97 335.61H198.97V337.4H197.97ZM201.4 336.2H202.4V337.4H201.4ZM204.84 336.5H205.83V337.4H204.84Z" fill="#f6786e"/><defs><pattern id="pc2" patternUnits="userSpaceOnUse" x="0" y="0" width="4" height="2"><rect x="0" y="0" width="4" height="1" fill="#fffcf8"/><rect x="0" y="1" width="4" height="1" fill="#fbc8bc"/></pattern></defs><path d="M45.75 323.95H47.73V337.4H45.75ZM49.71 328.73H51.14V337.4H49.71ZM53.11 327.24H54.54V337.4H53.11ZM56.52 300.35H57.94V337.4H56.52ZM59.67 318.28H60.92V337.4H59.67ZM62.66 320.67H63.91V337.4H62.66ZM66.01 300.05H67.52V337.4H66.01ZM69.62 309.91H71.13V337.4H69.62ZM73.23 283.62H74.74V337.4H73.23ZM76.84 251.05H78.35V337.4H76.84ZM80.3 248.06H81.71V337.4H80.3ZM83.66 304.83H85.07V337.4H83.66ZM87.02 278.24H88.43V337.4H87.02ZM90.38 254.03H91.79V337.4H90.38ZM93.69 290.19H95.06V337.4H93.69ZM96.96 295.87H98.32V337.4H96.96ZM100.22 272.56H101.59V337.4H100.22ZM103.51 314.39H104.89V337.4H103.51ZM106.81 320.07H108.2V337.4H106.81ZM110.11 312H111.5V337.4H110.11ZM113.45 316.19H114.85V337.4H113.45ZM116.8 315.89H118.2V337.4H116.8ZM120.15 304.83H121.55V337.4H120.15ZM123.5 288.99H124.9V337.4H123.5ZM126.85 282.42H128.25V337.4H126.85ZM130.2 310.21H131.61V337.4H130.2ZM133.57 293.48H134.99V337.4H133.57ZM136.96 276.15H138.38V337.4H136.96ZM140.34 318.87H141.76V337.4H140.34ZM143.73 291.68H145.15V337.4H143.73ZM147.11 256.43H148.53V337.4H147.11ZM150.5 246.56H151.92V337.4H150.5ZM153.97 237H155.45V337.4H153.97ZM157.51 199.06H158.98V337.4H157.51ZM161.04 308.72H162.52V337.4H161.04ZM164.57 329.63H166.05V337.4H164.57ZM168.05 334.71H169.49V337.4H168.05ZM171.49 334.41H172.92V337.4H171.49ZM174.92 333.81H176.36V337.4H174.92ZM178.36 332.92H179.79V337.4H178.36ZM181.79 334.71H183.23V337.4H181.79ZM185.23 335.01H186.66V337.4H185.23ZM188.66 334.71H190.1V337.4H188.66ZM192.1 334.71H193.53V337.4H192.1ZM195.53 334.41H196.97V337.4H195.53ZM198.97 335.61H200.4V337.4H198.97ZM202.4 336.2H203.84V337.4H202.4ZM205.83 336.5H207.27V337.4H205.83Z" fill="url(#pc2)"/><path d="M43 337.4V323.95H47.73V337.4M47.73 337.4V328.73H51.14V337.4M51.14 337.4V327.24H54.54V337.4M54.54 337.4V300.35H57.94V337.4M57.94 337.4V318.28H60.92V337.4M60.92 337.4V320.67H63.91V337.4M63.91 337.4V300.05H67.52V337.4M67.52 337.4V309.91H71.13V337.4M71.13 337.4V283.62H74.74V337.4M74.74 337.4V251.05H78.35V337.4M78.35 337.4V248.06H81.71V337.4M81.71 337.4V304.83H85.07V337.4M85.07 337.4V278.24H88.43V337.4M88.43 337.4V254.03H91.79V337.4M91.79 337.4V290.19H95.06V337.4M95.06 337.4V295.87H98.32V337.4M98.32 337.4V272.56H101.59V337.4M101.59 337.4V314.39H104.89V337.4M104.89 337.4V320.07H108.2V337.4M108.2 337.4V312H111.5V337.4M111.5 337.4V316.19H114.85V337.4M114.85 337.4V315.89H118.2V337.4M118.2 337.4V304.83H121.55V337.4M121.55 337.4V288.99H124.9V337.4M124.9 337.4V282.42H128.25V337.4M128.25 337.4V310.21H131.61V337.4M131.61 337.4V293.48H134.99V337.4M134.99 337.4V276.15H138.38V337.4M138.38 337.4V318.87H141.76V337.4M141.76 337.4V291.68H145.15V337.4M145.15 337.4V256.43H148.53V337.4M148.53 337.4V246.56H151.92V337.4M151.92 337.4V237H155.45V337.4M155.45 337.4V199.06H158.98V337.4M158.98 337.4V308.72H162.52V337.4M162.52 337.4V329.63H166.05V337.4M166.05 337.4V334.71H169.49V337.4M169.49 337.4V334.41H172.92V337.4M172.92 337.4V333.81H176.36V337.4M176.36 337.4V332.92H179.79V337.4M179.79 337.4V334.71H183.23V337.4M183.23 337.4V335.01H186.66V337.4M186.66 337.4V334.71H190.1V337.4M190.1 337.4V334.71H193.53V337.4M193.53 337.4V334.41H196.97V337.4M196.97 337.4V335.61H200.4V337.4M200.4 337.4V336.2H203.84V337.4M203.84 337.4V336.5H207.27V337.4" fill="none" stroke="#6e5438" stroke-width="0.45"/><path d="M43.2 324.3H47.53M47.93 329.08H50.94M51.34 327.59H54.34M54.74 300.7H57.74M58.14 318.63H60.72M61.12 321.02H63.71M64.11 300.4H67.32M67.72 310.26H70.93M71.33 283.97H74.54M74.94 251.4H78.15M78.55 248.41H81.51M81.91 305.18H84.87M85.27 278.59H88.23M88.63 254.38H91.59M91.99 290.54H94.86M95.26 296.22H98.12M98.52 272.91H101.39M101.79 314.74H104.69M105.09 320.42H108M108.4 312.35H111.3M111.7 316.54H114.65M115.05 316.24H118M118.4 305.18H121.35M121.75 289.34H124.7M125.1 282.77H128.05M128.45 310.56H131.41M131.81 293.83H134.79M135.19 276.5H138.18M138.58 319.22H141.56M141.96 292.03H144.95M145.35 256.78H148.33M148.73 246.91H151.72M152.12 237.35H155.25M155.65 199.41H158.78M159.18 309.07H162.32M162.72 329.98H165.85M166.25 335.06H169.29M169.69 334.76H172.72M173.12 334.16H176.16M176.56 333.27H179.59M179.99 335.06H183.03M183.43 335.36H186.46M186.86 335.06H189.9M190.3 335.06H193.33M193.73 334.76H196.77M197.17 335.96H200.2M200.6 336.55H203.64M204.04 336.85H207.07" fill="none" stroke="#7a6a48" stroke-width="0.7"/>
<rect x="42.8" y="188" width="226.7" height="149.4" fill="none" stroke="#383838" stroke-width="1"/>
<path d="M42.8 337.4v-2.8M42.8 188v2.8M52.25 337.4v-1.4M52.25 188v1.4M61.69 337.4v-2.8M61.69 188v2.8M71.14 337.4v-1.4M71.14 188v1.4M80.58 337.4v-2.8M80.58 188v2.8M90.03 337.4v-1.4M90.03 188v1.4M99.47 337.4v-2.8M99.47 188v2.8M108.92 337.4v-1.4M108.92 188v1.4M118.37 337.4v-2.8M118.37 188v2.8M127.81 337.4v-1.4M127.81 188v1.4M137.26 337.4v-2.8M137.26 188v2.8M146.7 337.4v-1.4M146.7 188v1.4M156.15 337.4v-2.8M156.15 188v2.8M165.6 337.4v-1.4M165.6 188v1.4M175.04 337.4v-2.8M175.04 188v2.8M184.49 337.4v-1.4M184.49 188v1.4M193.93 337.4v-2.8M193.93 188v2.8M203.38 337.4v-1.4M203.38 188v1.4M212.82 337.4v-2.8M212.82 188v2.8M222.27 337.4v-1.4M222.27 188v1.4M231.72 337.4v-2.8M231.72 188v2.8M241.16 337.4v-1.4M241.16 188v1.4M250.61 337.4v-2.8M250.61 188v2.8M260.05 337.4v-1.4M260.05 188v1.4M269.5 337.4v-2.8M269.5 188v2.8M42.8 337.4h2.8M269.5 337.4h-2.8M42.8 322.46h1.4M269.5 322.46h-1.4M42.8 307.52h2.8M269.5 307.52h-2.8M42.8 292.58h1.4M269.5 292.58h-1.4M42.8 277.64h2.8M269.5 277.64h-2.8M42.8 262.7h1.4M269.5 262.7h-1.4M42.8 247.76h2.8M269.5 247.76h-2.8M42.8 232.82h1.4M269.5 232.82h-1.4M42.8 217.88h2.8M269.5 217.88h-2.8M42.8 202.94h1.4M269.5 202.94h-1.4M42.8 188h2.8M269.5 188h-2.8" stroke="#383838" stroke-width="0.9" fill="none"/>
<text class="tl" transform="translate(42.8 346.6) scale(1 1.1)" text-anchor="middle">0</text><text class="tl" transform="translate(61.69 346.6) scale(1 1.1)" text-anchor="middle">50</text><text class="tl" transform="translate(80.58 346.6) scale(1 1.1)" text-anchor="middle">100</text><text class="tl" transform="translate(99.47 346.6) scale(1 1.1)" text-anchor="middle">150</text><text class="tl" transform="translate(118.37 346.6) scale(1 1.1)" text-anchor="middle">200</text><text class="tl" transform="translate(137.26 346.6) scale(1 1.1)" text-anchor="middle">250</text><text class="tl" transform="translate(156.15 346.6) scale(1 1.1)" text-anchor="middle">300</text><text class="tl" transform="translate(175.04 346.6) scale(1 1.1)" text-anchor="middle">350</text><text class="tl" transform="translate(193.93 346.6) scale(1 1.1)" text-anchor="middle">400</text><text class="tl" transform="translate(212.82 346.6) scale(1 1.1)" text-anchor="middle">450</text><text class="tl" transform="translate(231.72 346.6) scale(1 1.1)" text-anchor="middle">500</text><text class="tl" transform="translate(250.61 346.6) scale(1 1.1)" text-anchor="middle">550</text><text class="tl" transform="translate(269.5 346.6) scale(1 1.1)" text-anchor="middle">600</text><text class="tl" transform="translate(39.6 339.6) scale(1 1.1)" text-anchor="end">0</text><text class="tl" transform="translate(39.6 309.72) scale(1 1.1)" text-anchor="end">100</text><text class="tl" transform="translate(39.6 279.84) scale(1 1.1)" text-anchor="end">200</text><text class="tl" transform="translate(39.6 249.96) scale(1 1.1)" text-anchor="end">300</text><text class="tl" transform="translate(39.6 220.08) scale(1 1.1)" text-anchor="end">400</text><text class="tl" transform="translate(39.6 190.2) scale(1 1.1)" text-anchor="end">500</text>
<text class="pl" x="4.8" y="192.4">(c)</text>
<text class="rt" x="259.8" y="208.8" text-anchor="end">1:50</text>
<text class="at" x="159.3" y="357.5" text-anchor="middle"><tspan font-style="italic">Diameter</tspan> [nm]</text>
<text class="at" transform="translate(23.4 261) rotate(-90)" x="0" y="0" text-anchor="middle"><tspan font-style="italic">Counts</tspan> [#]</text>
<path d="M312 328h8v8h-8ZM312 336h8v8h-8ZM320 320h8v8h-8ZM320 328h8v8h-8ZM320 336h8v8h-8ZM328 304h8v8h-8ZM328 312h8v8h-8ZM328 320h8v8h-8ZM328 328h8v8h-8ZM328 336h8v8h-8ZM336 288h8v8h-8ZM336 296h8v8h-8ZM336 304h8v8h-8ZM336 312h8v8h-8ZM336 320h8v8h-8ZM336 328h8v8h-8ZM336 336h8v8h-8ZM344 288h8v8h-8ZM344 296h8v8h-8ZM344 304h8v8h-8ZM344 312h8v8h-8ZM344 320h8v8h-8ZM344 328h8v8h-8ZM344 336h8v8h-8ZM352 288h8v8h-8ZM352 296h8v8h-8ZM352 304h8v8h-8ZM352 312h8v8h-8ZM352 320h8v8h-8ZM352 328h8v8h-8ZM352 336h8v8h-8ZM360 288h8v8h-8ZM360 296h8v8h-8ZM360 304h8v8h-8ZM360 312h8v8h-8ZM360 320h8v8h-8ZM360 328h8v8h-8ZM360 336h8v8h-8ZM368 304h8v8h-8ZM368 312h8v8h-8ZM368 320h8v8h-8ZM368 328h8v8h-8ZM368 336h8v8h-8ZM376 304h8v8h-8ZM376 312h8v8h-8ZM376 320h8v8h-8ZM376 328h8v8h-8ZM376 336h8v8h-8ZM384 208h8v8h-8ZM384 216h8v8h-8ZM384 224h8v8h-8ZM384 232h8v8h-8ZM384 240h8v8h-8ZM384 248h8v8h-8ZM384 256h8v8h-8ZM384 264h8v8h-8ZM384 272h8v8h-8ZM384 280h8v8h-8ZM384 288h8v8h-8ZM384 296h8v8h-8ZM384 304h8v8h-8ZM384 312h8v8h-8ZM384 320h8v8h-8ZM384 328h8v8h-8ZM384 336h8v8h-8ZM392 288h8v8h-8ZM392 296h8v8h-8ZM392 304h8v8h-8ZM392 312h8v8h-8ZM392 320h8v8h-8ZM392 328h8v8h-8ZM392 336h8v8h-8ZM400 304h8v8h-8ZM400 312h8v8h-8ZM400 320h8v8h-8ZM400 328h8v8h-8ZM400 336h8v8h-8ZM408 280h8v8h-8ZM408 288h8v8h-8ZM408 296h8v8h-8ZM408 304h8v8h-8ZM408 312h8v8h-8ZM408 320h8v8h-8ZM408 328h8v8h-8ZM408 336h8v8h-8ZM416 288h8v8h-8ZM416 296h8v8h-8ZM416 304h8v8h-8ZM416 312h8v8h-8ZM416 320h8v8h-8ZM416 328h8v8h-8ZM416 336h8v8h-8ZM424 320h8v8h-8ZM424 328h8v8h-8ZM424 336h8v8h-8ZM432 288h8v8h-8ZM432 296h8v8h-8ZM432 304h8v8h-8ZM432 312h8v8h-8ZM432 320h8v8h-8ZM432 328h8v8h-8ZM432 336h8v8h-8ZM480 320h8v8h-8ZM480 328h8v8h-8ZM480 336h8v8h-8ZM488 320h8v8h-8ZM488 328h8v8h-8ZM488 336h8v8h-8ZM496 328h8v8h-8ZM496 336h8v8h-8ZM512 320h8v8h-8ZM512 328h8v8h-8ZM512 336h8v8h-8ZM520 304h8v8h-8ZM520 312h8v8h-8ZM520 320h8v8h-8ZM520 328h8v8h-8ZM520 336h8v8h-8Z" fill="#fdf0f6"/>
<path d="M313.8 331.72H314.97V337.4H313.8ZM317.84 331.72H318.89V337.4H317.84ZM321.45 332.02H322.5V337.4H321.45ZM325.07 326.94H326.12V337.4H325.07ZM328.68 331.13H329.73V337.4H328.68ZM332.3 319.47H333.27V337.4H332.3ZM335.64 304.53H336.61V337.4H335.64ZM338.98 304.23H339.95V337.4H338.98ZM342.32 291.68H343.29V337.4H342.32ZM345.65 315.29H346.59V337.4H345.65ZM348.87 304.53H349.8V337.4H348.87ZM352.08 315.89H353.02V337.4H352.08ZM355.3 296.46H356.23V337.4H355.3ZM358.51 291.09H359.51V337.4H358.51ZM361.93 321.26H362.93V337.4H361.93ZM365.35 323.95H366.34V337.4H365.35ZM368.77 326.34H369.76V337.4H368.77ZM372.19 324.85H373.18V337.4H372.19ZM375.61 311.7H376.7V337.4H375.61ZM379.35 311.7H380.16V337.4H379.35ZM382.14 309.31H382.95V337.4H382.14ZM384.93 246.27H385.93V337.4H384.93ZM388.37 208.32H389.37V337.4H388.37ZM391.81 290.19H392.81V337.4H391.81ZM395.25 319.47H396.25V337.4H395.25ZM398.68 329.63H399.68V337.4H398.68ZM402.12 308.72H403.12V337.4H402.12ZM405.56 325.45H406.56V337.4H405.56ZM409 304.83H410V337.4H409ZM412.44 285.71H413.44V337.4H412.44ZM415.88 296.76H416.88V337.4H415.88ZM419.31 290.19H420.3V337.4H419.31ZM422.73 325.15H423.73V337.4H422.73ZM426.16 331.72H427.15V337.4H426.16ZM429.58 331.72H430.58V337.4H429.58ZM433.01 331.72H434V337.4H433.01ZM436.43 293.48H437.43V337.4H436.43ZM439.86 335.01H440.91V337.4H439.86ZM443.46 335.01H444.51V337.4H443.46ZM447.07 336.5H448.12V337.4H447.07ZM450.68 336.8H451.72V337.4H450.68ZM454.28 337.1H455.33V337.4H454.28ZM457.89 337.1H458.94V337.4H457.89ZM461.49 336.8H462.54V337.4H461.49ZM465.1 337.1H466.15V337.4H465.1ZM468.71 337.1H469.75V337.4H468.71ZM472.31 337.1H473.36V337.4H472.31ZM475.92 336.8H476.97V337.4H475.92ZM479.52 336.5H480.57V337.4H479.52ZM483.13 326.34H484.11V337.4H483.13ZM486.49 323.95H487.47V337.4H486.49ZM489.85 328.73H490.83V337.4H489.85ZM493.21 329.03H494.19V337.4H493.21ZM496.57 333.22H497.54V337.4H496.57ZM499.93 334.71H500.92V337.4H499.93ZM503.34 336.5H504.33V337.4H503.34ZM506.76 336.8H507.75V337.4H506.76ZM510.17 335.91H511.16V337.4H510.17ZM513.58 333.22H514.58V337.4H513.58ZM517 326.34H517.99V337.4H517ZM520.41 323.95H521.41V337.4H520.41ZM523.83 309.91H524.82V337.4H523.83ZM527.24 334.11H528.24V337.4H527.24Z" fill="#e2404a"/><path d="M314.97 331.72H316.15V337.4H314.97ZM318.89 331.72H319.94V337.4H318.89ZM322.5 332.02H323.56V337.4H322.5ZM326.12 326.94H327.17V337.4H326.12ZM329.73 331.13H330.78V337.4H329.73ZM333.27 319.47H334.24V337.4H333.27ZM336.61 304.53H337.58V337.4H336.61ZM339.95 304.23H340.92V337.4H339.95ZM343.29 291.68H344.26V337.4H343.29ZM346.59 315.29H347.52V337.4H346.59ZM349.8 304.53H350.74V337.4H349.8ZM353.02 315.89H353.95V337.4H353.02ZM356.23 296.46H357.17V337.4H356.23ZM359.51 291.09H360.5V337.4H359.51ZM362.93 321.26H363.92V337.4H362.93ZM366.34 323.95H367.34V337.4H366.34ZM369.76 326.34H370.76V337.4H369.76ZM373.18 324.85H374.18V337.4H373.18ZM376.7 311.7H377.78V337.4H376.7ZM380.16 311.7H380.97V337.4H380.16ZM382.95 309.31H383.76V337.4H382.95ZM385.93 246.27H386.93V337.4H385.93ZM389.37 208.32H390.37V337.4H389.37ZM392.81 290.19H393.81V337.4H392.81ZM396.25 319.47H397.25V337.4H396.25ZM399.68 329.63H400.68V337.4H399.68ZM403.12 308.72H404.12V337.4H403.12ZM406.56 325.45H407.56V337.4H406.56ZM410 304.83H411V337.4H410ZM413.44 285.71H414.44V337.4H413.44ZM416.88 296.76H417.87V337.4H416.88ZM420.3 290.19H421.3V337.4H420.3ZM423.73 325.15H424.72V337.4H423.73ZM427.15 331.72H428.15V337.4H427.15ZM430.58 331.72H431.57V337.4H430.58ZM434 331.72H435V337.4H434ZM437.43 293.48H438.42V337.4H437.43ZM440.91 335.01H441.95V337.4H440.91ZM444.51 335.01H445.56V337.4H444.51ZM448.12 336.5H449.17V337.4H448.12ZM451.72 336.8H452.77V337.4H451.72ZM455.33 337.1H456.38V337.4H455.33ZM458.94 337.1H459.98V337.4H458.94ZM462.54 336.8H463.59V337.4H462.54ZM466.15 337.1H467.2V337.4H466.15ZM469.75 337.1H470.8V337.4H469.75ZM473.36 337.1H474.41V337.4H473.36ZM476.97 336.8H478.01V337.4H476.97ZM480.57 336.5H481.62V337.4H480.57ZM484.11 326.34H485.08V337.4H484.11ZM487.47 323.95H488.44V337.4H487.47ZM490.83 328.73H491.8V337.4H490.83ZM494.19 329.03H495.16V337.4H494.19ZM497.54 333.22H498.52V337.4H497.54ZM500.92 334.71H501.91V337.4H500.92ZM504.33 336.5H505.33V337.4H504.33ZM507.75 336.8H508.74V337.4H507.75ZM511.16 335.91H512.16V337.4H511.16ZM514.58 333.22H515.57V337.4H514.58ZM517.99 326.34H518.98V337.4H517.99ZM521.41 323.95H522.4V337.4H521.41ZM524.82 309.91H525.81V337.4H524.82ZM528.24 334.11H529.24V337.4H528.24Z" fill="#f67a72"/><defs><pattern id="pd2" patternUnits="userSpaceOnUse" x="0" y="0" width="4" height="2"><rect x="0" y="0" width="4" height="1" fill="#ffffff"/><rect x="0" y="1" width="4" height="1" fill="#ffe1dd"/></pattern></defs><path d="M316.15 331.72H317.84V337.4H316.15ZM319.94 331.72H321.45V337.4H319.94ZM323.56 332.02H325.07V337.4H323.56ZM327.17 326.94H328.68V337.4H327.17ZM330.78 331.13H332.3V337.4H330.78ZM334.24 319.47H335.64V337.4H334.24ZM337.58 304.53H338.98V337.4H337.58ZM340.92 304.23H342.32V337.4H340.92ZM344.26 291.68H345.65V337.4H344.26ZM347.52 315.29H348.87V337.4H347.52ZM350.74 304.53H352.08V337.4H350.74ZM353.95 315.89H355.3V337.4H353.95ZM357.17 296.46H358.51V337.4H357.17ZM360.5 291.09H361.93V337.4H360.5ZM363.92 321.26H365.35V337.4H363.92ZM367.34 323.95H368.77V337.4H367.34ZM370.76 326.34H372.19V337.4H370.76ZM374.18 324.85H375.61V337.4H374.18ZM377.78 311.7H379.35V337.4H377.78ZM380.97 311.7H382.14V337.4H380.97ZM383.76 309.31H384.93V337.4H383.76ZM386.93 246.27H388.37V337.4H386.93ZM390.37 208.32H391.81V337.4H390.37ZM393.81 290.19H395.25V337.4H393.81ZM397.25 319.47H398.68V337.4H397.25ZM400.68 329.63H402.12V337.4H400.68ZM404.12 308.72H405.56V337.4H404.12ZM407.56 325.45H409V337.4H407.56ZM411 304.83H412.44V337.4H411ZM414.44 285.71H415.88V337.4H414.44ZM417.87 296.76H419.31V337.4H417.87ZM421.3 290.19H422.73V337.4H421.3ZM424.72 325.15H426.16V337.4H424.72ZM428.15 331.72H429.58V337.4H428.15ZM431.57 331.72H433.01V337.4H431.57ZM435 331.72H436.43V337.4H435ZM438.42 293.48H439.86V337.4H438.42ZM441.95 335.01H443.46V337.4H441.95ZM445.56 335.01H447.07V337.4H445.56ZM449.17 336.5H450.68V337.4H449.17ZM452.77 336.8H454.28V337.4H452.77ZM456.38 337.1H457.89V337.4H456.38ZM459.98 337.1H461.49V337.4H459.98ZM463.59 336.8H465.1V337.4H463.59ZM467.2 337.1H468.71V337.4H467.2ZM470.8 337.1H472.31V337.4H470.8ZM474.41 337.1H475.92V337.4H474.41ZM478.01 336.8H479.52V337.4H478.01ZM481.62 336.5H483.13V337.4H481.62ZM485.08 326.34H486.49V337.4H485.08ZM488.44 323.95H489.85V337.4H488.44ZM491.8 328.73H493.21V337.4H491.8ZM495.16 329.03H496.57V337.4H495.16ZM498.52 333.22H499.93V337.4H498.52ZM501.91 334.71H503.34V337.4H501.91ZM505.33 336.5H506.76V337.4H505.33ZM508.74 336.8H510.17V337.4H508.74ZM512.16 335.91H513.58V337.4H512.16ZM515.57 333.22H517V337.4H515.57ZM518.98 326.34H520.41V337.4H518.98ZM522.4 323.95H523.83V337.4H522.4ZM525.81 309.91H527.24V337.4H525.81ZM529.24 334.11H530.68V337.4H529.24Z" fill="url(#pd2)"/><path d="M313.8 337.4V331.72H317.84V337.4M317.84 337.4V331.72H321.45V337.4M321.45 337.4V332.02H325.07V337.4M325.07 337.4V326.94H328.68V337.4M328.68 337.4V331.13H332.3V337.4M332.3 337.4V319.47H335.64V337.4M335.64 337.4V304.53H338.98V337.4M338.98 337.4V304.23H342.32V337.4M342.32 337.4V291.68H345.65V337.4M345.65 337.4V315.29H348.87V337.4M348.87 337.4V304.53H352.08V337.4M352.08 337.4V315.89H355.3V337.4M355.3 337.4V296.46H358.51V337.4M358.51 337.4V291.09H361.93V337.4M361.93 337.4V321.26H365.35V337.4M365.35 337.4V323.95H368.77V337.4M368.77 337.4V326.34H372.19V337.4M372.19 337.4V324.85H375.61V337.4M375.61 337.4V311.7H379.35V337.4M379.35 337.4V311.7H382.14V337.4M382.14 337.4V309.31H384.93V337.4M384.93 337.4V246.27H388.37V337.4M388.37 337.4V208.32H391.81V337.4M391.81 337.4V290.19H395.25V337.4M395.25 337.4V319.47H398.68V337.4M398.68 337.4V329.63H402.12V337.4M402.12 337.4V308.72H405.56V337.4M405.56 337.4V325.45H409V337.4M409 337.4V304.83H412.44V337.4M412.44 337.4V285.71H415.88V337.4M415.88 337.4V296.76H419.31V337.4M419.31 337.4V290.19H422.73V337.4M422.73 337.4V325.15H426.16V337.4M426.16 337.4V331.72H429.58V337.4M429.58 337.4V331.72H433.01V337.4M433.01 337.4V331.72H436.43V337.4M436.43 337.4V293.48H439.86V337.4M439.86 337.4V335.01H443.46V337.4M443.46 337.4V335.01H447.07V337.4M447.07 337.4V336.5H450.68V337.4M450.68 337.4V336.8H454.28V337.4M454.28 337.4V337.1H457.89V337.4M457.89 337.4V337.1H461.49V337.4M461.49 337.4V336.8H465.1V337.4M465.1 337.4V337.1H468.71V337.4M468.71 337.4V337.1H472.31V337.4M472.31 337.4V337.1H475.92V337.4M475.92 337.4V336.8H479.52V337.4M479.52 337.4V336.5H483.13V337.4M483.13 337.4V326.34H486.49V337.4M486.49 337.4V323.95H489.85V337.4M489.85 337.4V328.73H493.21V337.4M493.21 337.4V329.03H496.57V337.4M496.57 337.4V333.22H499.93V337.4M499.93 337.4V334.71H503.34V337.4M503.34 337.4V336.5H506.76V337.4M506.76 337.4V336.8H510.17V337.4M510.17 337.4V335.91H513.58V337.4M513.58 337.4V333.22H517V337.4M517 337.4V326.34H520.41V337.4M520.41 337.4V323.95H523.83V337.4M523.83 337.4V309.91H527.24V337.4M527.24 337.4V334.11H530.68V337.4" fill="none" stroke="#6e5840" stroke-width="0.45"/><path d="M314 332.07H317.64M318.04 332.07H321.25M321.65 332.37H324.87M325.27 327.29H328.48M328.88 331.48H332.1M332.5 319.82H335.44M335.84 304.88H338.78M339.18 304.58H342.12M342.52 292.03H345.45M345.85 315.64H348.67M349.07 304.88H351.88M352.28 316.24H355.1M355.5 296.81H358.31M358.71 291.44H361.73M362.13 321.61H365.15M365.55 324.3H368.57M368.97 326.69H371.99M372.39 325.2H375.41M375.81 312.05H379.15M379.55 312.05H381.94M382.34 309.66H384.73M385.13 246.62H388.17M388.57 208.67H391.61M392.01 290.54H395.05M395.45 319.82H398.48M398.88 329.98H401.92M402.32 309.07H405.36M405.76 325.8H408.8M409.2 305.18H412.24M412.64 286.06H415.68M416.08 297.11H419.11M419.51 290.54H422.53M422.93 325.5H425.96M426.36 332.07H429.38M429.78 332.07H432.81M433.21 332.07H436.23M436.63 293.83H439.66M440.06 335.36H443.26M443.66 335.36H446.87M447.27 336.85H450.48M450.88 337.15H454.08M454.48 337.45H457.69M458.09 337.45H461.29M461.69 337.15H464.9M465.3 337.45H468.51M468.91 337.45H472.11M472.51 337.45H475.72M476.12 337.15H479.32M479.72 336.85H482.93M483.33 326.69H486.29M486.69 324.3H489.65M490.05 329.08H493.01M493.41 329.38H496.37M496.77 333.57H499.73M500.13 335.06H503.14M503.54 336.85H506.56M506.96 337.15H509.97M510.37 336.26H513.38M513.78 333.57H516.8M517.2 326.69H520.21M520.61 324.3H523.63M524.03 310.26H527.04M527.44 334.46H530.48" fill="none" stroke="#7a6a4c" stroke-width="0.7"/>
<rect x="313.6" y="188" width="227" height="149.4" fill="none" stroke="#383838" stroke-width="1"/>
<path d="M313.6 337.4v-2.8M313.6 188v2.8M323.06 337.4v-1.4M323.06 188v1.4M332.52 337.4v-2.8M332.52 188v2.8M341.98 337.4v-1.4M341.98 188v1.4M351.43 337.4v-2.8M351.43 188v2.8M360.89 337.4v-1.4M360.89 188v1.4M370.35 337.4v-2.8M370.35 188v2.8M379.81 337.4v-1.4M379.81 188v1.4M389.27 337.4v-2.8M389.27 188v2.8M398.73 337.4v-1.4M398.73 188v1.4M408.18 337.4v-2.8M408.18 188v2.8M417.64 337.4v-1.4M417.64 188v1.4M427.1 337.4v-2.8M427.1 188v2.8M436.56 337.4v-1.4M436.56 188v1.4M446.02 337.4v-2.8M446.02 188v2.8M455.48 337.4v-1.4M455.48 188v1.4M464.93 337.4v-2.8M464.93 188v2.8M474.39 337.4v-1.4M474.39 188v1.4M483.85 337.4v-2.8M483.85 188v2.8M493.31 337.4v-1.4M493.31 188v1.4M502.77 337.4v-2.8M502.77 188v2.8M512.23 337.4v-1.4M512.23 188v1.4M521.68 337.4v-2.8M521.68 188v2.8M531.14 337.4v-1.4M531.14 188v1.4M540.6 337.4v-2.8M540.6 188v2.8M313.6 337.4h2.8M540.6 337.4h-2.8M313.6 322.46h1.4M540.6 322.46h-1.4M313.6 307.52h2.8M540.6 307.52h-2.8M313.6 292.58h1.4M540.6 292.58h-1.4M313.6 277.64h2.8M540.6 277.64h-2.8M313.6 262.7h1.4M540.6 262.7h-1.4M313.6 247.76h2.8M540.6 247.76h-2.8M313.6 232.82h1.4M540.6 232.82h-1.4M313.6 217.88h2.8M540.6 217.88h-2.8M313.6 202.94h1.4M540.6 202.94h-1.4M313.6 188h2.8M540.6 188h-2.8" stroke="#383838" stroke-width="0.9" fill="none"/>
<text class="tl" transform="translate(313.6 346.6) scale(1 1.1)" text-anchor="middle">0</text><text class="tl" transform="translate(332.52 346.6) scale(1 1.1)" text-anchor="middle">50</text><text class="tl" transform="translate(351.43 346.6) scale(1 1.1)" text-anchor="middle">100</text><text class="tl" transform="translate(370.35 346.6) scale(1 1.1)" text-anchor="middle">150</text><text class="tl" transform="translate(389.27 346.6) scale(1 1.1)" text-anchor="middle">200</text><text class="tl" transform="translate(408.18 346.6) scale(1 1.1)" text-anchor="middle">250</text><text class="tl" transform="translate(427.1 346.6) scale(1 1.1)" text-anchor="middle">300</text><text class="tl" transform="translate(446.02 346.6) scale(1 1.1)" text-anchor="middle">350</text><text class="tl" transform="translate(464.93 346.6) scale(1 1.1)" text-anchor="middle">400</text><text class="tl" transform="translate(483.85 346.6) scale(1 1.1)" text-anchor="middle">450</text><text class="tl" transform="translate(502.77 346.6) scale(1 1.1)" text-anchor="middle">500</text><text class="tl" transform="translate(521.68 346.6) scale(1 1.1)" text-anchor="middle">550</text><text class="tl" transform="translate(540.6 346.6) scale(1 1.1)" text-anchor="middle">600</text><text class="tl" transform="translate(310.4 339.6) scale(1 1.1)" text-anchor="end">0</text><text class="tl" transform="translate(310.4 309.72) scale(1 1.1)" text-anchor="end">100</text><text class="tl" transform="translate(310.4 279.84) scale(1 1.1)" text-anchor="end">200</text><text class="tl" transform="translate(310.4 249.96) scale(1 1.1)" text-anchor="end">300</text><text class="tl" transform="translate(310.4 220.08) scale(1 1.1)" text-anchor="end">400</text><text class="tl" transform="translate(310.4 190.2) scale(1 1.1)" text-anchor="end">500</text>
<text class="pl" x="274.8" y="199.9">(d)</text>
<text class="rt" x="530.8" y="208.6" text-anchor="end">1:33</text>
<text class="at" x="429.3" y="358" text-anchor="middle"><tspan font-style="italic">Diameter</tspan> [nm]</text>
<text class="at" transform="translate(294.9 260.5) rotate(-90)" x="0" y="0" text-anchor="middle"><tspan font-style="italic">Counts</tspan> [#]</text>
</svg>
</body></html>
